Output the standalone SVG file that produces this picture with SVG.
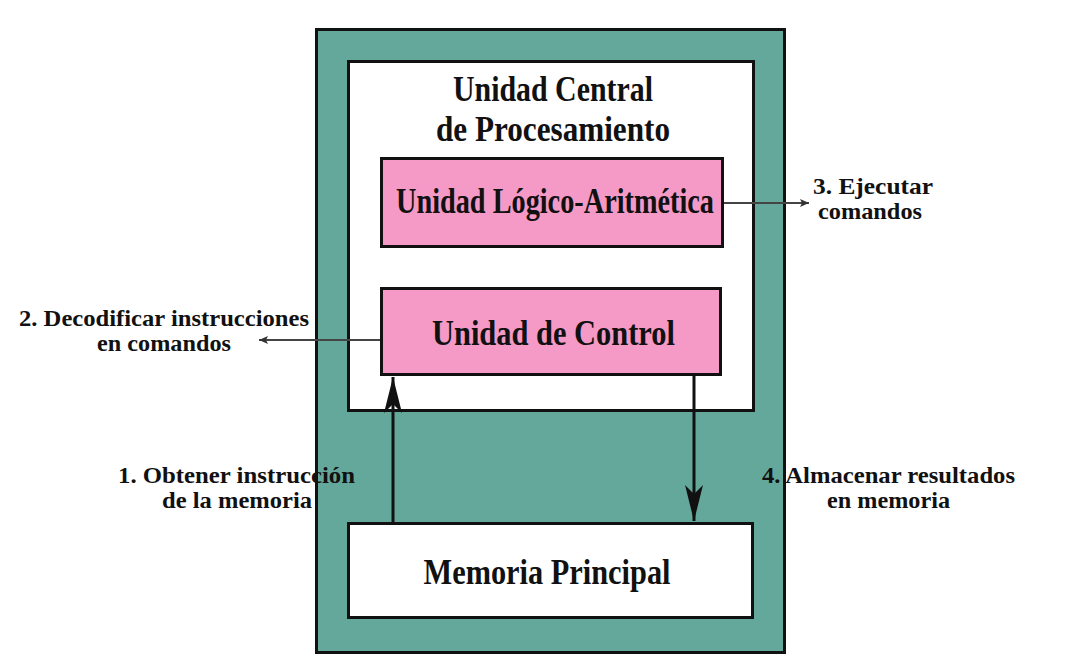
<svg xmlns="http://www.w3.org/2000/svg" width="1068" height="671" viewBox="0 0 1068 671">
  <defs>
    <style>
      .box { stroke: #111; stroke-width: 3; }
      .teal { fill: #64a89c; }
      .white { fill: #ffffff; }
      .pink { fill: #f59ac7; }
      .big { font-family: "Liberation Serif", "Times New Roman", serif; font-weight: bold; font-size: 36px; fill: #111; text-anchor: middle; }
      .small { font-family: "Liberation Serif", "Times New Roman", serif; font-weight: bold; font-size: 23px; fill: #111; text-anchor: middle; }
      .thick { stroke: #111; stroke-width: 3; fill: none; }
      .thin { stroke: #444; stroke-width: 2; fill: none; }
    </style>
    <marker id="barb" markerUnits="userSpaceOnUse" markerWidth="40" markerHeight="20" refX="36" refY="9" orient="auto" viewBox="0 0 40 20">
      <path d="M0,0 L36,9 L0,18 L9,9 Z" fill="#111"/>
    </marker>
    <marker id="small" markerUnits="userSpaceOnUse" markerWidth="12" markerHeight="10" refX="9" refY="4" orient="auto" viewBox="0 0 12 10">
      <path d="M0,0 L9,4 L0,8 L2,4 Z" fill="#333"/>
    </marker>
  </defs>

  <rect width="1068" height="671" fill="#ffffff"/>

  <g id="system">
    <rect class="box teal" x="316.5" y="29.5" width="468" height="623"/>
  </g>

  <g id="cpu">
    <rect class="box white" x="348.5" y="61.5" width="405" height="349"/>
    <text class="big" x="553" y="101" textLength="200" lengthAdjust="spacingAndGlyphs">Unidad Central</text>
    <text class="big" x="553" y="141" textLength="234" lengthAdjust="spacingAndGlyphs">de Procesamiento</text>
  </g>

  <g id="alu">
    <rect class="box pink" x="381.5" y="158.5" width="341" height="88"/>
    <text class="big" x="555" y="213" font-size="34" textLength="318" lengthAdjust="spacingAndGlyphs">Unidad Lógico-Aritmética</text>
  </g>

  <g id="control">
    <rect class="box pink" x="381.5" y="288.5" width="339" height="86"/>
    <text class="big" x="553.5" y="345" textLength="243" lengthAdjust="spacingAndGlyphs">Unidad de Control</text>
  </g>

  <g id="memoria">
    <rect class="box white" x="348.5" y="523.5" width="404" height="94"/>
    <text class="big" x="547" y="584" textLength="247" lengthAdjust="spacingAndGlyphs">Memoria Principal</text>
  </g>

  <g id="connectors">
    <line class="thick" x1="393" y1="522" x2="393" y2="377" marker-end="url(#barb)"/>
    <line class="thick" x1="694" y1="376" x2="694" y2="521" marker-end="url(#barb)"/>
    <line class="thin" x1="724" y1="203" x2="809" y2="203" marker-end="url(#small)"/>
    <line class="thin" x1="380" y1="340" x2="259" y2="340" marker-end="url(#small)"/>

    <text class="small" x="873" y="194" textLength="120" lengthAdjust="spacingAndGlyphs">3. Ejecutar</text>
    <text class="small" x="870" y="219" textLength="104" lengthAdjust="spacingAndGlyphs">comandos</text>

    <text class="small" x="164" y="326" textLength="290" lengthAdjust="spacingAndGlyphs">2. Decodificar instrucciones</text>
    <text class="small" x="164" y="351" textLength="134" lengthAdjust="spacingAndGlyphs">en comandos</text>

    <text class="small" x="236.5" y="483" textLength="237" lengthAdjust="spacingAndGlyphs">1. Obtener instrucción</text>
    <text class="small" x="237" y="508" textLength="150" lengthAdjust="spacingAndGlyphs">de la memoria</text>

    <text class="small" x="888.5" y="483" textLength="253" lengthAdjust="spacingAndGlyphs">4. Almacenar resultados</text>
    <text class="small" x="888.5" y="508" textLength="123" lengthAdjust="spacingAndGlyphs">en memoria</text>
  </g>
</svg>
